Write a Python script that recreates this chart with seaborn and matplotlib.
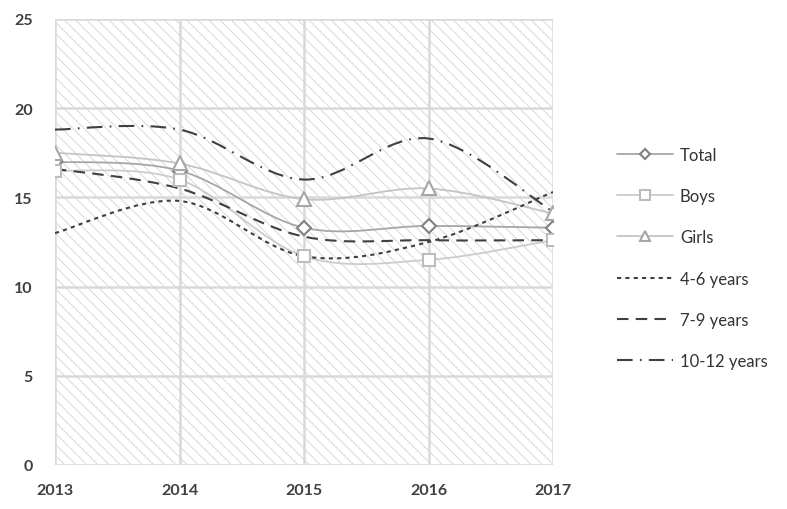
import numpy as np
import pandas as pd
import matplotlib
matplotlib.use('Agg')
import matplotlib.pyplot as plt
from matplotlib.path import Path
from matplotlib.patches import PathPatch, Rectangle
from matplotlib.lines import Line2D
import seaborn as sns

sns.set_style('white')
plt.rcParams['font.family'] = ['Lato', 'DejaVu Sans']
plt.rcParams['hatch.linewidth'] = 0.6
plt.rcParams['hatch.color'] = '#d2d2d2'

years = [2013, 2014, 2015, 2016, 2017]
total = [17.0, 16.5, 13.3, 13.4, 13.3]
boys = [16.5, 16.0, 11.7, 11.5, 12.6]
girls = [17.5, 16.9, 14.9, 15.5, 14.1]
age_4_6 = [13.0, 14.8, 11.7, 12.5, 15.3]
age_7_9 = [16.6, 15.5, 12.8, 12.6, 12.6]
age_10_12 = [18.8, 18.8, 16.0, 18.3, 14.2]

series = [
    ('Total', total, dict(color='#a6a6a6', ls='-', marker='D', mec='#808080', ms=7)),
    ('Boys', boys, dict(color='#cccccc', ls='-', marker='s', mec='#bcbcbc', ms=9)),
    ('Girls', girls, dict(color='#c4c4c4', ls='-', marker='^', mec='#a6a6a6', ms=10)),
    ('4-6 years', age_4_6, dict(color='#404040', ls=(0, (2, 2)), marker=None)),
    ('7-9 years', age_7_9, dict(color='#404040', ls=(0, (5.5, 3.5)), marker=None)),
    ('10-12 years', age_10_12, dict(color='#404040', ls=(0, (7.5, 3.5, 0.8, 3.5)), marker=None)),
]


def smooth_path(x, y):
    # Excel style smoothed line: cubic bezier segments through every point
    pts = np.column_stack([x, y]).astype(float)
    ext = np.vstack([pts[0], pts, pts[-1]])
    verts = [pts[0]]
    codes = [Path.MOVETO]
    for i in range(1, len(ext) - 2):
        p0, p1, p2, p3 = ext[i - 1], ext[i], ext[i + 1], ext[i + 2]
        verts += [p1 + (p2 - p0) / 6, p2 - (p3 - p1) / 6, p2]
        codes += [Path.CURVE4] * 3
    return Path(verts, codes)


fig = plt.figure(figsize=(7.87, 5.10), dpi=100)
ax = fig.add_axes([0.0699, 0.0863, 0.6328, 0.8745])

ax.add_patch(Rectangle((0, 0), 1, 1, transform=ax.transAxes, facecolor='white',
                       hatch='\\\\\\', edgecolor='#d2d2d2', lw=0, zorder=0))

handles = []
for name, vals, st in series:
    lw = 1.5 if st['marker'] is None else 1.3
    ax.add_patch(PathPatch(smooth_path(years, vals), fill=False, edgecolor=st['color'],
                           lw=lw, linestyle=st['ls'], zorder=3))
    if st['marker'] is not None:
        df = pd.DataFrame({'year': years, 'value': vals})
        sns.lineplot(data=df, x='year', y='value', ax=ax, linestyle='none',
                     marker=st['marker'], markersize=st['ms'], markerfacecolor='white',
                     markeredgecolor=st['mec'], markeredgewidth=1.5, zorder=4)
        handles.append(Line2D([], [], color=st['color'], lw=lw, marker=st['marker'],
                              markersize=st['ms'] * 0.75, markerfacecolor='white',
                              markeredgecolor=st['mec'], markeredgewidth=1.5, label=name))
    else:
        handles.append(Line2D([], [], color=st['color'], lw=lw, linestyle=st['ls'], label=name))

ax.set_xlim(2013, 2017)
ax.set_ylim(0, 25)
ax.set_xticks(years)
ax.set_yticks([0, 5, 10, 15, 20, 25])
ax.grid(True, color='#d9d9d9', lw=1.8, zorder=1)
for sp in ax.spines.values():
    sp.set_visible(False)
ax.set_xlabel('')
ax.set_ylabel('')
ax.tick_params(axis='both', length=0, labelsize=11.5, colors='#333333')
ax.tick_params(axis='y', pad=16)
ax.tick_params(axis='x', pad=13)
for lab in ax.get_xticklabels() + ax.get_yticklabels():
    lab.set_fontweight('bold')
    lab.set_color('#404040')

fig.legend(handles=handles, loc='upper left', bbox_to_anchor=(0.765, 0.74),
           frameon=False, handlelength=3.35, handletextpad=0.42, labelspacing=1.52,
           prop={'size': 12}, labelcolor='#333333')

fig.savefig('out.png', dpi=100)
